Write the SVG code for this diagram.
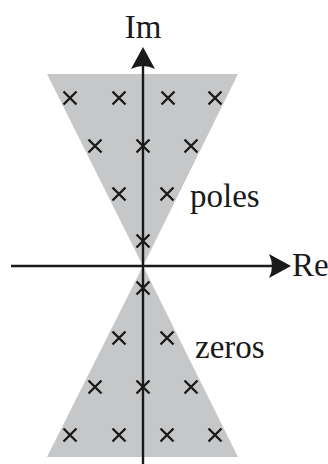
<svg xmlns="http://www.w3.org/2000/svg" width="328" height="464" viewBox="0 0 328 464">
<style>
.region{fill:#c6c7c9}
.axis{stroke:#1a1a1a;stroke-width:2.4;fill:none}
.x{stroke:#1a1a1a;stroke-width:2.4;fill:none}
.lbl{font-family:"Liberation Serif",serif;font-size:33px;fill:#1a1a1a}
</style>
<defs>
<path id="cr" d="M-6.5,-6.5L6.5,6.5M-6.5,6.5L6.5,-6.5"/>
</defs>
<g id="poles-region"><polygon class="region" points="47,74 238,74 143,266"/></g>
<g id="zeros-region"><polygon class="region" points="143,266 47,457 238,457"/></g>
<g id="connectors">
<line class="axis" x1="143" y1="464" x2="143" y2="60"/>
<path d="M143,47 L155,69 Q143,63 131,69 Z" fill="#1a1a1a"/>
<line class="axis" x1="11" y1="266" x2="278" y2="266"/>
<path d="M291,266 L269,254 Q275,266 269,278 Z" fill="#1a1a1a"/>
</g>
<g id="poles" class="x">
<use href="#cr" x="70" y="98"/><use href="#cr" x="119" y="98"/><use href="#cr" x="168" y="98"/><use href="#cr" x="215" y="98"/>
<use href="#cr" x="95" y="146"/><use href="#cr" x="143" y="146"/><use href="#cr" x="191" y="146"/>
<use href="#cr" x="119" y="194"/><use href="#cr" x="167" y="194"/>
<use href="#cr" x="143" y="241"/>
</g>
<g id="zeros" class="x">
<use href="#cr" x="143" y="288"/>
<use href="#cr" x="119" y="338"/><use href="#cr" x="167" y="338"/>
<use href="#cr" x="95" y="387"/><use href="#cr" x="143" y="387"/><use href="#cr" x="191" y="387"/>
<use href="#cr" x="70" y="435"/><use href="#cr" x="119" y="435"/><use href="#cr" x="167" y="435"/><use href="#cr" x="215" y="435"/>
</g>
<g id="labels">
<text class="lbl" x="143" y="38" text-anchor="middle">Im</text>
<text class="lbl" x="190" y="207">poles</text>
<text class="lbl" x="292" y="276" font-size="32">Re</text>
<text class="lbl" x="195" y="358">zeros</text>
</g>
</svg>
